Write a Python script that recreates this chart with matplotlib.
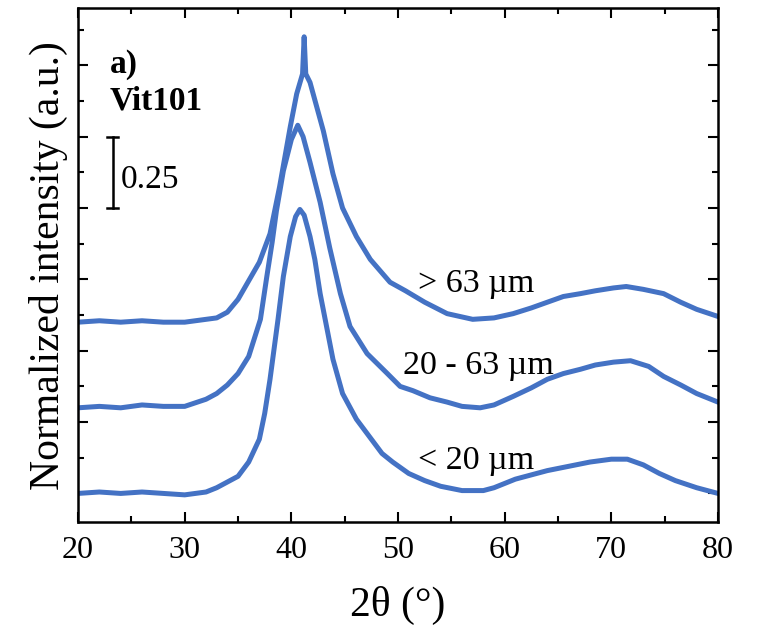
import numpy as np
import matplotlib.pyplot as plt
from matplotlib.ticker import MultipleLocator, NullFormatter

# XRD patterns, Vit101 powder fractions (offset stacked)
x_small = [20, 22, 24, 26, 28, 30, 32, 33, 34, 35, 36, 37, 37.5, 38, 38.75, 39.25,
           39.9, 40.4, 40.8, 41.2, 41.75, 42.2, 42.7, 43.3, 43.9, 44.8, 46.1, 47.7,
           48.5, 49.5, 51, 52.5, 54, 56, 58, 59, 60, 61, 62.5, 64, 66, 68, 70, 71.5,
           73, 74.5, 76, 78, 80]
y_small = [0.0, 0.005, 0.0, 0.005, 0.0, -0.005, 0.005, 0.02, 0.04, 0.06, 0.11, 0.19,
           0.28, 0.40, 0.61, 0.76, 0.90, 0.97, 0.995, 0.975, 0.9, 0.82, 0.70, 0.585,
           0.47, 0.35, 0.26, 0.18, 0.14, 0.11, 0.07, 0.045, 0.025, 0.01, 0.01, 0.02,
           0.035, 0.05, 0.065, 0.08, 0.095, 0.11, 0.12, 0.12, 0.1, 0.07, 0.045, 0.02,
           0.0]

x_mid = [20, 22, 24, 26, 28, 30, 32, 33, 34, 35, 36, 37.1, 37.7, 38.2, 38.6, 39.25,
         40.0, 40.6, 41.1, 41.75, 42.7, 43.6, 44.6, 45.5, 47.1, 49, 50.2, 51.4, 53,
         54.6, 56, 57.7, 59, 60.8, 62.5, 64, 65.5, 67.1, 68.5, 70.2, 71.8, 73.5, 74.9,
         76.5, 78, 79, 80]
y_mid = [0.30, 0.305, 0.30, 0.31, 0.305, 0.305, 0.33, 0.35, 0.38, 0.42, 0.48, 0.61,
         0.76, 0.88, 0.99, 1.13, 1.24, 1.29, 1.25, 1.16, 1.02, 0.86, 0.70, 0.585,
         0.49, 0.42, 0.375, 0.36, 0.335, 0.32, 0.305, 0.30, 0.31, 0.34, 0.37, 0.40,
         0.42, 0.435, 0.45, 0.46, 0.465, 0.445, 0.41, 0.38, 0.35, 0.335, 0.32]

x_large = [20, 22, 24, 26, 28, 30, 32, 33, 34, 35, 36, 37, 38, 38.9, 39.9, 40.5,
           41.05, 41.2, 41.35, 41.75, 43, 43.9, 44.8, 46.1, 47.4, 49.25, 50.7, 52.5,
           54.6, 57, 59, 60.8, 62.5, 64, 65.5, 67.1, 68.5, 70.2, 71.4, 73, 74.9, 76.5,
           78, 80]
y_large = [0.60, 0.605, 0.60, 0.605, 0.60, 0.60, 0.61, 0.615, 0.635, 0.68, 0.745,
           0.81, 0.91, 1.075, 1.285, 1.40, 1.47, 1.60, 1.47, 1.44, 1.27, 1.12, 1.0,
           0.90, 0.82, 0.74, 0.71, 0.67, 0.63, 0.61, 0.615, 0.63, 0.65, 0.67, 0.69,
           0.70, 0.71, 0.72, 0.725, 0.715, 0.70, 0.67, 0.645, 0.62]

labels = ["< 20 µm", "20 - 63 µm", "> 63 µm"]

plt.rcParams["font.family"] = ["Liberation Serif", "DejaVu Serif"]

color = "#4472C4"

fig = plt.figure(figsize=(7.59, 6.33), dpi=100)
ax = fig.add_axes([0.1028, 0.1754, 0.8432, 0.8116])

for xs, ys in [(x_small, y_small), (x_mid, y_mid), (x_large, y_large)]:
    ax.plot(xs, ys, color=color, lw=3.6, solid_joinstyle="round")

# curve labels
ax.text(51.9, 0.084, labels[0], fontsize=24.5, va="baseline")
ax.text(50.5, 0.417, labels[1], fontsize=24.5, va="baseline")
ax.text(51.9, 0.707, labels[2], fontsize=24.5, va="baseline")

# panel label and scale bar
ax.text(23.0, 1.474, "a)", fontsize=24, fontweight="bold", va="baseline")
ax.text(23.0, 1.345, "Vit101", fontsize=24, fontweight="bold", va="baseline")
ax.plot([23.25, 23.25], [1.0, 1.25], color="black", lw=1.8)
ax.plot([22.72, 23.75], [1.0, 1.0], color="black", lw=1.8)
ax.plot([22.72, 23.75], [1.25, 1.25], color="black", lw=1.8)
ax.text(24.0, 1.071, "0.25", fontsize=24, va="baseline")

ax.set_xlim(20, 80)
ax.set_ylim(-0.1, 1.70)
ax.xaxis.set_major_locator(MultipleLocator(10))
ax.xaxis.set_minor_locator(MultipleLocator(5))
ax.yaxis.set_major_locator(MultipleLocator(0.25))
ax.yaxis.set_minor_locator(MultipleLocator(0.125))
ax.yaxis.set_major_formatter(NullFormatter())

ax.tick_params(which="both", direction="in", top=True, right=True, width=1.5)
ax.tick_params(which="major", length=7, labelsize=23, pad=10)
ax.tick_params(which="minor", length=4)
for s in ax.spines.values():
    s.set_linewidth(1.8)

ax.set_xlabel("2θ (°)", fontsize=30, labelpad=15)
ax.set_ylabel("Normalized intensity (a.u.)", fontsize=30, labelpad=-3)

fig.savefig("out.png", dpi=100)
